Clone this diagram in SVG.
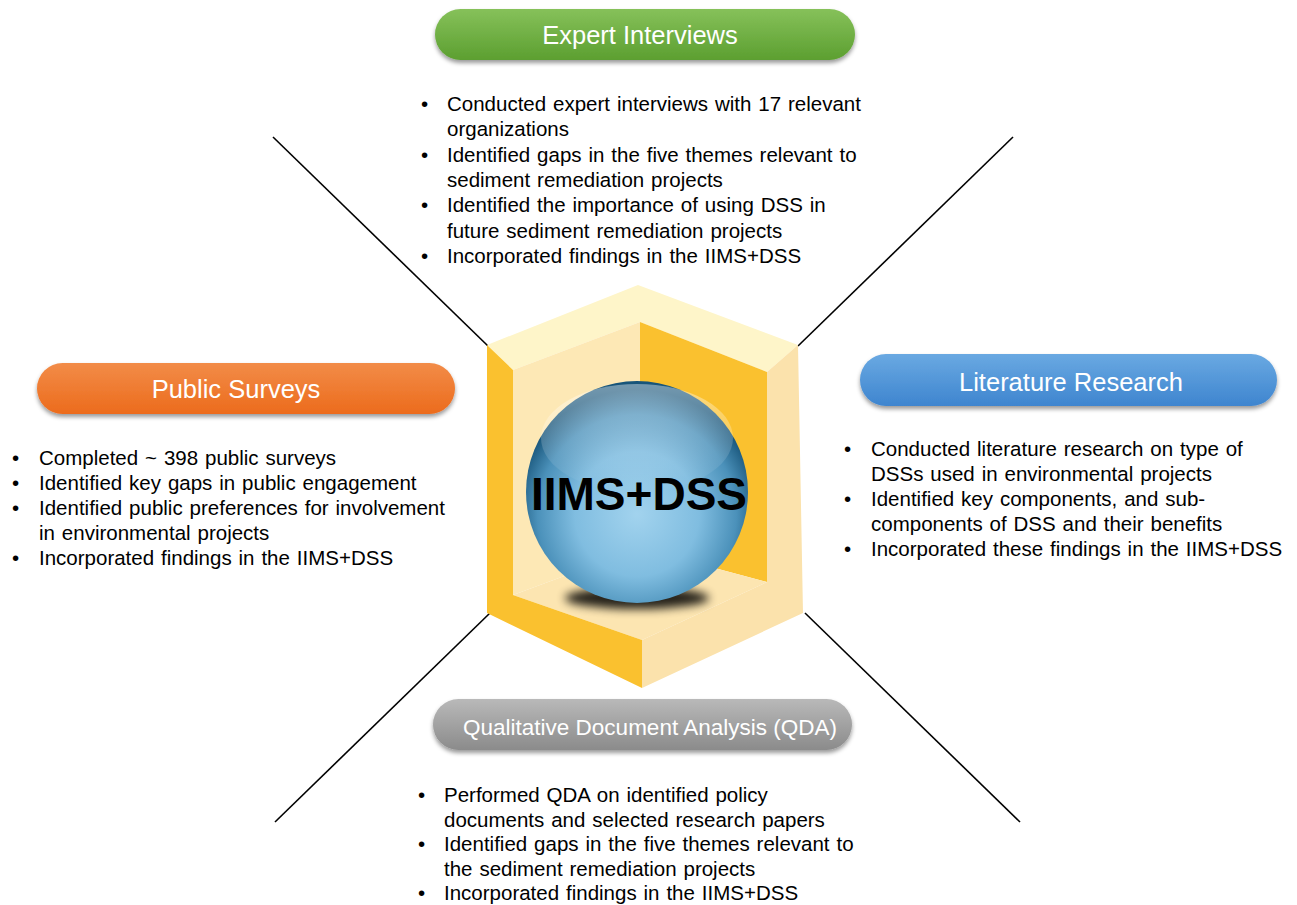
<svg xmlns="http://www.w3.org/2000/svg" width="1297" height="905" viewBox="0 0 1297 905">
  <style>
    .pill-label { font-family: "Liberation Sans", Arial, sans-serif; fill: #ffffff; text-anchor: middle; }
    .body { font-family: "Liberation Sans", Arial, sans-serif; font-size: 20.5px; fill: #000000; word-spacing: 1.2px; }
    .connector { stroke: #000000; stroke-width: 1.6; fill: none; }
    .core-label { font-family: "Liberation Sans", Arial, sans-serif; font-size: 46px; font-weight: bold; fill: #000000; text-anchor: middle; }
  </style>
  <defs>
    <linearGradient id="gGreen" x1="0" y1="0" x2="0" y2="1">
      <stop offset="0" stop-color="#86C15A"/>
      <stop offset="1" stop-color="#5C9F30"/>
    </linearGradient>
    <linearGradient id="gOrange" x1="0" y1="0" x2="0" y2="1">
      <stop offset="0" stop-color="#F28C48"/>
      <stop offset="1" stop-color="#EC6B1C"/>
    </linearGradient>
    <linearGradient id="gBlue" x1="0" y1="0" x2="0" y2="1">
      <stop offset="0" stop-color="#6AA9E2"/>
      <stop offset="1" stop-color="#3E85CF"/>
    </linearGradient>
    <linearGradient id="gGrey" x1="0" y1="0" x2="0" y2="1">
      <stop offset="0" stop-color="#B9B9B9"/>
      <stop offset="1" stop-color="#8B8B8B"/>
    </linearGradient>
    <radialGradient id="gSphere" cx="0.5" cy="0.6" r="0.56">
      <stop offset="0" stop-color="#A2D3EE"/>
      <stop offset="0.5" stop-color="#80BDE0"/>
      <stop offset="0.8" stop-color="#4B91BA"/>
      <stop offset="1" stop-color="#18557A"/>
    </radialGradient>
    <linearGradient id="gGloss" x1="0" y1="0" x2="0" y2="1">
      <stop offset="0" stop-color="#ffffff" stop-opacity="0.4"/>
      <stop offset="1" stop-color="#ffffff" stop-opacity="0"/>
    </linearGradient>
    <filter id="pillShadow" x="-10%" y="-30%" width="120%" height="170%">
      <feDropShadow dx="0" dy="3" stdDeviation="2.2" flood-color="#000000" flood-opacity="0.4"/>
    </filter>
    <filter id="blurShadow" x="-50%" y="-200%" width="200%" height="500%">
      <feGaussianBlur stdDeviation="5"/>
    </filter>
  </defs>

  <rect width="1297" height="905" fill="#ffffff"/>

  <!-- spokes from the hexagon corners -->
  <g id="connectors">
    <line class="connector" x1="273" y1="137" x2="488" y2="346"/>
    <line class="connector" x1="1013" y1="137" x2="798" y2="346"/>
    <line class="connector" x1="490" y1="613" x2="275" y2="822"/>
    <line class="connector" x1="805" y1="613" x2="1020" y2="822"/>
  </g>

  <!-- central open box with sphere -->
  <g id="core">
    <polygon points="487,345 638,285 798,345 767,372 640,322 513,370" fill="#FEF5C9"/>
    <polygon points="513,370 640,322 640,548 513,595" fill="#FDE8B5"/>
    <polygon points="640,322 767,372 767,582 640,548" fill="#FAC12F"/>
    <polygon points="513,595 640,548 767,582 642,640" fill="#FCE5B1"/>
    <polygon points="487,345 513,370 513,595 642,640 642,688 487,613" fill="#FAC12F"/>
    <polygon points="767,372 798,345 803,613 642,688 642,640 767,582" fill="#FBE2AC"/>
    <ellipse cx="637" cy="598" rx="72" ry="11" fill="#000000" opacity="0.85" filter="url(#blurShadow)"/>
    <circle cx="637" cy="492" r="111" fill="url(#gSphere)"/>
    <ellipse cx="637" cy="438" rx="96" ry="54" fill="url(#gGloss)"/>
    <text class="core-label" x="639" y="510">IIMS+DSS</text>
  </g>

  <!-- Expert Interviews -->
  <g id="expert-interviews">
    <rect x="435" y="9" width="420" height="51" rx="25.5" fill="url(#gGreen)" filter="url(#pillShadow)"/>
    <text class="pill-label" x="640" y="44" font-size="25.5">Expert Interviews</text>
    <g class="body">
      <text x="421" y="111">•</text><text x="447" y="111">Conducted expert interviews with 17 relevant</text>
      <text x="447" y="136">organizations</text>
      <text x="421" y="161.5">•</text><text x="447" y="161.5">Identified gaps in the five themes relevant to</text>
      <text x="447" y="187">sediment remediation projects</text>
      <text x="421" y="212">•</text><text x="447" y="212">Identified the importance of using DSS in</text>
      <text x="447" y="237.5">future sediment remediation projects</text>
      <text x="421" y="263">•</text><text x="447" y="263">Incorporated findings in the IIMS+DSS</text>
    </g>
  </g>

  <!-- Public Surveys -->
  <g id="public-surveys">
    <rect x="37" y="363" width="418" height="51" rx="25.5" fill="url(#gOrange)" filter="url(#pillShadow)"/>
    <text class="pill-label" x="236" y="398" font-size="25.5">Public Surveys</text>
    <g class="body">
      <text x="12" y="465">•</text><text x="39" y="465">Completed ~ 398 public surveys</text>
      <text x="12" y="490">•</text><text x="39" y="490">Identified key gaps in public engagement</text>
      <text x="12" y="515">•</text><text x="39" y="515">Identified public preferences for involvement</text>
      <text x="39" y="540">in environmental projects</text>
      <text x="12" y="565">•</text><text x="39" y="565">Incorporated findings in the IIMS+DSS</text>
    </g>
  </g>

  <!-- Literature Research -->
  <g id="literature-research">
    <rect x="860" y="354" width="417" height="52" rx="26" fill="url(#gBlue)" filter="url(#pillShadow)"/>
    <text class="pill-label" x="1071" y="391" font-size="25.5">Literature Research</text>
    <g class="body">
      <text x="844" y="456">•</text><text x="871" y="456">Conducted literature research on type of</text>
      <text x="871" y="481">DSSs used in environmental projects</text>
      <text x="844" y="506">•</text><text x="871" y="506">Identified key components, and sub-</text>
      <text x="871" y="531">components of DSS and their benefits</text>
      <text x="844" y="556">•</text><text x="871" y="556">Incorporated these findings in the IIMS+DSS</text>
    </g>
  </g>

  <!-- Qualitative Document Analysis -->
  <g id="qda">
    <rect x="433" y="699" width="419" height="51" rx="25.5" fill="url(#gGrey)" filter="url(#pillShadow)"/>
    <text class="pill-label" x="650" y="735" font-size="22.5">Qualitative Document Analysis (QDA)</text>
    <g class="body">
      <text x="418" y="802">•</text><text x="444" y="802">Performed QDA on identified policy</text>
      <text x="444" y="827">documents and selected research papers</text>
      <text x="418" y="851">•</text><text x="444" y="851">Identified gaps in the five themes relevant to</text>
      <text x="444" y="876">the sediment remediation projects</text>
      <text x="418" y="900">•</text><text x="444" y="900">Incorporated findings in the IIMS+DSS</text>
    </g>
  </g>
</svg>
